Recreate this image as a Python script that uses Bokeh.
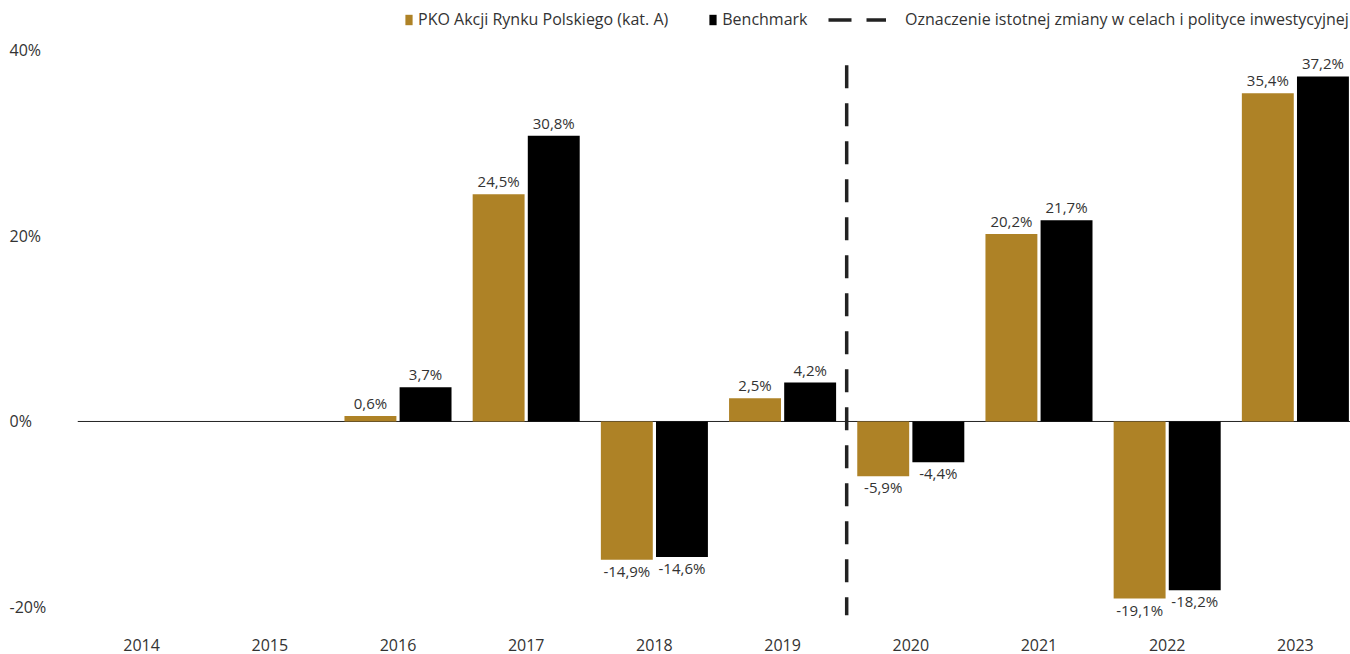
import math
from bokeh.plotting import figure
from bokeh.layouts import row
from bokeh.models import Range1d, FixedTicker, Legend, LegendItem, Span, ColumnDataSource
from bokeh.core.properties import value
from bokeh.embed import file_html
from bokeh.resources import INLINE

# ---- data ----
years = ["2014", "2015", "2016", "2017", "2018", "2019", "2020", "2021", "2022", "2023"]
fund = [math.nan, math.nan, 0.6, 24.5, -14.9, 2.5, -5.9, 20.2, -19.1, 35.4]
bench = [math.nan, math.nan, 3.7, 30.8, -14.6, 4.2, -4.4, 21.7, -18.2, 37.2]
y_ticks = [40, 20, 0, -20]
y_tick_labels = ["40%", "20%", "0%", "-20%"]
fund_name = "PKO Akcji Rynku Polskiego (kat. A)"
bench_name = "Benchmark"
change_name = "Oznaczenie istotnej zmiany w celach i polityce inwestycyjnej"
change_between = 5.5  # between 2019 and 2020
change_span = [38.4, -20.9]

GOLD = "#AE8226"
BLACK = "#000000"
TEXT = "#333333"
FONT = "Open Sans"

OFF = 0.215
BAR_W = 0.405
H = 654
BOTTOM = 34


def fmt(v):
    return ("%.1f" % v).replace(".", ",") + "%"


def series_source(vals, off):
    xs, ys, labels, offs = [], [], [], []
    for i, v in enumerate(vals):
        if math.isnan(v):
            continue
        xs.append(i + off)
        ys.append(v)
        labels.append(fmt(v))
        offs.append(-13 if v >= 0 else 11)
    return ColumnDataSource(dict(x=xs, top=ys, label=labels, yoff=offs))


yr = Range1d(-21.46, 45.39)

# left strip with y tick labels (left aligned as in the reference)
lf = figure(width=77, height=H, output_backend="svg", toolbar_location=None,
            x_range=Range1d(0, 77), y_range=yr, x_axis_type=None, y_axis_type=None,
            min_border_left=0, min_border_right=0, min_border_top=0, min_border_bottom=BOTTOM)
lf.outline_line_color = None
lf.grid.visible = False
lf.text(x=[9] * len(y_ticks), y=y_ticks, text=y_tick_labels, text_align="left",
        text_baseline="middle", text_font=value(FONT), text_font_size="16px", text_color=TEXT)

p = figure(width=1273, height=H, output_backend="svg", toolbar_location=None,
           x_range=Range1d(-0.5, 9.43), y_range=yr, y_axis_type=None,
           min_border_left=0, min_border_right=0, min_border_top=0, min_border_bottom=BOTTOM)
p.outline_line_color = None
p.xgrid.visible = False
p.ygrid.visible = False

p.add_layout(Span(location=0, dimension="width", line_color="#222222", line_width=1, level="underlay"))

src_f = series_source(fund, -OFF)
src_b = series_source(bench, OFF)
r_f = p.vbar(x="x", top="top", bottom=0, width=BAR_W, source=src_f, fill_color=GOLD, line_color=None)
r_b = p.vbar(x="x", top="top", bottom=0, width=BAR_W, source=src_b, fill_color=BLACK, line_color=None)

for src in (src_f, src_b):
    p.text(x="x", y="top", text="label", source=src, y_offset="yoff",
           text_align="center", text_baseline="alphabetic",
           text_font=value(FONT), text_font_size="15px", text_color=TEXT)

r_line = p.line(x=[change_between, change_between], y=change_span, line_dash="23 15",
                line_width=3.5, line_color="#222222")

xa = p.xaxis[0]
xa.ticker = FixedTicker(ticks=list(range(len(years))))
xa.major_label_overrides = {i: y for i, y in enumerate(years)}
xa.axis_line_color = None
xa.major_tick_line_color = None
xa.minor_tick_line_color = None
xa.major_label_standoff = 12
xa.major_label_text_font = FONT
xa.major_label_text_font_size = "16px"
xa.major_label_text_color = TEXT

common = dict(orientation="horizontal", padding=0, margin=0, border_line_color=None,
              background_fill_alpha=0, label_text_font=FONT, label_text_font_size="16px",
              label_text_color=TEXT, glyph_height=13)
leg_a = Legend(items=[LegendItem(label=fund_name, renderers=[r_f]),
                      LegendItem(label=bench_name, renderers=[r_b])],
               location=(327, 590), glyph_width=9, label_standoff=5, spacing=40, **common)
leg_b = Legend(items=[LegendItem(label=change_name, renderers=[r_line])],
               location=(751, 590), glyph_width=58, label_standoff=19, **common)
p.add_layout(leg_a, "center")
p.add_layout(leg_b, "center")

layout = row(lf, p)
open("out.html", "w").write(file_html(layout, INLINE))
